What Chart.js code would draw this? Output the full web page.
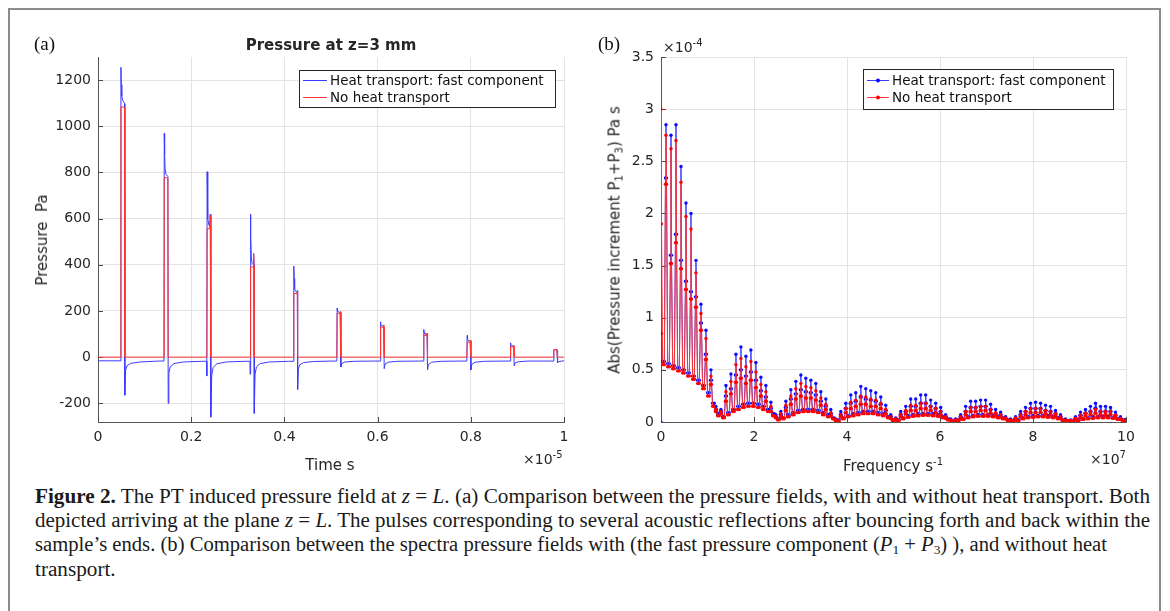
<!DOCTYPE html>
<html><head><meta charset="utf-8">
<script src="https://cdn.jsdelivr.net/npm/chart.js@4.4.1/dist/chart.umd.min.js"></script>
<style>
html,body{margin:0;padding:0;background:#fff;width:1170px;height:611px;overflow:hidden;}
#frame{position:absolute;left:8px;top:8px;width:1153px;height:660px;border:2px solid #8c8c8c;box-sizing:border-box;}
canvas{position:absolute;top:0;}
.t{position:absolute;font-family:'DejaVu Sans',sans-serif;color:#262626;white-space:nowrap;font-size:15px;z-index:5;}
.t sup{font-size:10px;vertical-align:6px;}
.t sub{font-size:10px;vertical-align:-3px;}
.pl{position:absolute;font-family:'Liberation Serif',serif;font-size:19px;color:#111;z-index:5;}
.cap{position:absolute;left:35px;font-family:'Liberation Serif',serif;font-size:20px;line-height:22px;color:#1a1a1a;white-space:nowrap;transform-origin:left top;z-index:5;}
.cap sub{font-size:13px;vertical-align:-3px;}
</style></head>
<body>
<div id="frame"></div>
<canvas id="ca" width="585" height="480" style="left:0px"></canvas>
<canvas id="cb" width="580" height="480" style="left:590px"></canvas>

<div class="pl" style="left:34px;top:33px">(a)</div>
<div class="t" style="left:331px;top:45px;transform:translate(-50%,-50%);font-weight:bold;">Pressure at z=3 mm</div>
<div class="t" style="left:42px;top:240px;transform:translate(-50%,-50%) rotate(-90deg);">Pressure&nbsp;&nbsp;Pa</div>
<div class="t" style="left:330px;top:465px;transform:translate(-50%,-50%);">Time s</div>
<div class="t" style="left:523px;top:458px;transform:translate(0,-50%);font-size:14px;">×10<sup>-5</sup></div>

<div class="pl" style="left:598px;top:33px">(b)</div>
<div class="t" style="left:663px;top:46px;transform:translate(0,-50%);font-size:14px;">×10<sup>-4</sup></div>
<div class="t" style="left:893px;top:465px;transform:translate(-50%,-50%);">Frequency s<sup>-1</sup></div>
<div class="t" style="left:1090px;top:458px;transform:translate(0,-50%);font-size:14px;">×10<sup>7</sup></div>
<div class="t" style="left:615px;top:240px;transform:translate(-50%,-50%) rotate(-90deg);">Abs(Pressure increment P<sub>1</sub>+P<sub>3</sub>) Pa s</div>

<div class="cap" id="c1" style="top:485px"><b>Figure 2.</b> The PT induced pressure field at <i>z</i> = <i>L</i>. (a) Comparison between the pressure fields, with and without heat transport. Both</div>
<div class="cap" id="c2" style="top:509px">depicted arriving at the plane <i>z</i> = <i>L</i>. The pulses corresponding to several acoustic reflections after bouncing forth and back within the</div>
<div class="cap" id="c3" style="top:533px">sample’s ends. (b) Comparison between the spectra pressure fields with (the fast pressure component (<i>P</i><sub>1</sub> + <i>P</i><sub>3</sub>) ), and without heat</div>
<div class="cap" id="c4" style="top:558px">transport.</div>

<script>
// ---------------- DATA ----------------
const seriesNames = ['Heat transport: fast component', 'No heat transport'];

// Panel (a): time in units of 1e-5 s, pressure in Pa
const timeTicks = [0, 0.2, 0.4, 0.6, 0.8, 1];
const pressureTicks = [-200, 0, 200, 400, 600, 800, 1000, 1200];

const blueTime = [0,
0.0485,0.0492,0.0500,0.0510,0.0530,0.0570,0.0576,0.0590,0.0620,0.070,0.090,0.130,
0.1415,0.1422,0.1430,0.1440,0.1460,0.1500,0.1506,0.1520,0.1550,0.163,0.183,0.223,
0.2330,0.2335,0.2342,0.2350,0.2360,0.2380,0.2400,0.2410,0.2418,0.2424,0.2440,0.2470,0.255,0.275,0.316,
0.3260,0.3265,0.3272,0.3280,0.3290,0.3310,0.3330,0.3340,0.3348,0.3354,0.3370,0.3400,0.348,0.368,0.409,
0.4195,0.4202,0.4210,0.4220,0.4240,0.4270,0.4278,0.4284,0.4300,0.4330,0.441,0.461,0.502,
0.5125,0.5132,0.5140,0.5155,0.5200,0.5212,0.5230,0.530,0.550,0.595,
0.6055,0.6062,0.6070,0.6085,0.6130,0.6142,0.6160,0.623,0.643,0.688,
0.6985,0.6992,0.7000,0.7015,0.7060,0.7072,0.7090,0.716,0.736,0.781,
0.7915,0.7922,0.7930,0.7945,0.7990,0.8002,0.8020,0.809,0.829,0.874,
0.8845,0.8852,0.8860,0.8875,0.8920,0.8932,0.8950,0.902,0.922,0.967,
0.9775,0.9782,0.9790,0.9805,0.9850,0.9862,0.9880,0.995,1.0];
const bluePressure = [-16,
-16,1255,1180,1130,1112,1098,-165,-60,-38,-27,-21,-17,
-17,969,880,815,792,782,-200,-70,-42,-28,-21,-18,
-18,-82,803,690,600,572,566,619,565,-260,-80,-45,-29,-21,-18,
-18,-74,619,520,430,405,400,449,398,-244,-75,-42,-28,-21,-18,
-18,394,340,295,285,282,288,-140,-50,-33,-24,-19,-17,
-17,212,200,196,194,-43,-28,-21,-18,-17,
-17,153,140,136,134,-50,-30,-22,-18,-17,
-17,120,105,100,98,-56,-32,-22,-18,-17,
-17,94,78,72,70,-56,-32,-22,-18,-17,
-17,62,53,50,48,-38,-26,-20,-17,-17,
-17,33,32,32,31,-25,-20,-17,-16];

const redTime = [0,
0.0487,0.0492,0.0570,0.0575,
0.1417,0.1422,0.1500,0.1505,
0.2337,0.2342,0.2400,0.2410,0.2418,0.2423,
0.3267,0.3272,0.3330,0.3340,0.3348,0.3353,
0.4197,0.4202,0.4270,0.4278,0.4283,
0.5127,0.5132,0.5195,0.5203,0.5210,0.5214,
0.6057,0.6062,0.6125,0.6133,0.6140,0.6144,
0.6987,0.6992,0.7055,0.7063,0.7070,0.7074,
0.7917,0.7922,0.7985,0.7993,0.8000,0.8004,
0.8847,0.8852,0.8915,0.8923,0.8930,0.8934,
0.9777,0.9782,0.9790,0.9850,0.9858,1.0];
const redPressure = [0,
0,1085,1082,0,
0,778,776,0,
0,557,556,615,560,0,
0,391,390,445,392,0,
0,276,275,283,0,
0,190,188,198,188,0,
0,131,129,140,129,0,
0,95,93,104,93,0,
0,66,64,74,64,0,
0,45,44,52,44,0,
0,30,33,32,0,0];

// Panel (b): frequency in units of 1e7 1/s, amplitude in units of 1e-4 Pa s
const freqTicks = [0, 2, 4, 6, 8, 10];
const ampTicks = [0, 0.5, 1, 1.5, 2, 2.5, 3, 3.5];
const harmonicSpacing = 0.1074;   // spacing of the spectral lines

const bluePeak = [0,2.85,2.75,2.85,2.45,2.10,2.00,1.55,1.13,0.88,0.50,0.15,
0.12,0.35,0.46,0.65,0.72,0.63,0.69,0.57,0.43,0.35,0.19,0.07,
0.10,0.20,0.31,0.39,0.45,0.42,0.40,0.37,0.29,0.22,0.12,0.03,
0.10,0.18,0.26,0.28,0.34,0.32,0.30,0.28,0.24,0.16,0.07,
0.04,0.10,0.15,0.22,0.22,0.26,0.26,0.21,0.18,0.14,0.07,0.03,
0.03,0.07,0.15,0.20,0.20,0.21,0.21,0.17,0.12,0.095,0.05,
0.03,0.05,0.10,0.14,0.18,0.19,0.18,0.16,0.15,0.11,0.07,0.03,
0.02,0.05,0.095,0.12,0.15,0.18,0.15,0.15,0.14,0.095,0.05,0.025];
const blueShoulder = [.85,2.34,1.6,1.8,1.55,1.35,1.25,1.2,.95,.65,.4,.12,
.1,.25,.32,.45,.5,.44,.48,.4,.3,.24,.13,.05,
.07,.14,.22,.27,.31,.29,.28,.26,.2,.15,.08,.02,
.07,.13,.18,.2,.24,.22,.21,.2,.17,.11,.05,
.03,.07,.1,.15,.15,.18,.18,.15,.13,.1,.05,.02,
.02,.05,.1,.14,.14,.15,.15,.12,.08,.07,.035,
.02,.035,.07,.1,.13,.13,.13,.11,.1,.08,.05,.02,
.015,.035,.065,.085,.1,.13,.1,.1,.1,.065,.035,.02];
const blueFloor = [.58,.56,.54,.52,.50,.47,.44,.40,.35,.28,.18,.08,
.05,.09,.12,.15,.17,.18,.18,.17,.15,.12,.08,.03,
.04,.07,.09,.11,.12,.12,.12,.11,.09,.07,.04,.02,
.04,.06,.08,.09,.10,.10,.10,.09,.08,.05,.02,
.02,.04,.06,.07,.08,.08,.08,.08,.07,.05,.03,.01,
.02,.03,.05,.06,.07,.07,.07,.06,.05,.04,.02,
.01,.02,.04,.05,.06,.06,.06,.06,.05,.04,.02,.01,
.01,.02,.03,.04,.05,.05,.05,.05,.04,.03,.02,.01];

const redPeak = [3.00,2.75,2.62,2.70,2.30,1.97,1.85,1.43,1.04,0.80,0.44,0.12,
.10,.29,.39,.55,.61,.53,.58,.48,.36,.29,.15,.05,
.08,.16,.25,.32,.37,.34,.33,.30,.23,.17,.09,.02,
.07,.13,.19,.21,.25,.24,.22,.21,.18,.12,.05,
.03,.07,.11,.16,.16,.18,.18,.15,.13,.10,.05,.02,
.02,.05,.10,.14,.14,.15,.15,.12,.09,.07,.04,
.02,.04,.07,.10,.13,.13,.13,.11,.10,.08,.05,.02,
.015,.035,.065,.085,.10,.12,.10,.10,.10,.065,.035,.02];
const redShoulder = [1.9,2.28,1.52,1.72,1.47,1.27,1.18,1.1,.88,.6,.36,.1,
.08,.2,.27,.38,.42,.37,.4,.33,.25,.2,.1,.04,
.05,.11,.17,.22,.25,.23,.23,.21,.16,.12,.06,.015,
.05,.09,.13,.15,.17,.17,.15,.15,.13,.08,.035,
.02,.05,.08,.11,.11,.13,.13,.11,.09,.07,.035,.015,
.015,.035,.07,.1,.1,.11,.11,.085,.065,.05,.03,
.015,.03,.05,.07,.09,.09,.09,.08,.07,.055,.035,.015,
.01,.025,.045,.06,.07,.085,.07,.07,.07,.045,.025,.015];
const redFloor = [.55,.53,.51,.49,.47,.44,.41,.37,.32,.25,.15,.06,
.04,.07,.10,.12,.14,.15,.15,.14,.12,.10,.06,.02,
.03,.05,.07,.09,.10,.10,.10,.09,.07,.05,.03,.01,
.03,.05,.06,.07,.08,.08,.08,.07,.06,.04,.015,
.015,.03,.045,.055,.06,.065,.065,.06,.055,.04,.02,.01,
.015,.025,.04,.05,.055,.055,.055,.05,.04,.03,.015,
.01,.015,.03,.04,.045,.05,.05,.045,.04,.03,.015,.01,
.01,.015,.025,.03,.035,.04,.04,.04,.035,.025,.015,.01];

// ---------------- BUILD ----------------
const BLUE_LINE = '#3a3aff', RED_LINE = '#ff3434';
const BLUE_DOT = '#0a0aff', RED_DOT = '#ff0000';

function pairs(xs, ys) { return xs.map((x, i) => ({x: x, y: ys[i]})); }
function spectrum(peak, shoulder, floor) {
  const pts = [];
  for (let k = 0; k < peak.length; k++) {
    const f = k * harmonicSpacing;
    if (k > 0) pts.push({x: f - 0.011, y: shoulder[k]});
    pts.push({x: f, y: peak[k]});
    pts.push({x: f + 0.011, y: shoulder[k]});
    pts.push({x: f + 0.036, y: floor[k]});
    pts.push({x: f + 0.072, y: floor[k]});
  }
  return pts;
}
function fmt(v) { return String(Math.round(v * 1000) / 1000); }

const decor = {
  id: 'decor',
  beforeDatasetsDraw(chart) {
    const {ctx, chartArea: a, scales: {x, y}} = chart;
    ctx.save();
    ctx.strokeStyle = '#4a4a4a'; ctx.lineWidth = 1;
    ctx.beginPath();
    x.ticks.forEach(t => { const px = Math.round(x.getPixelForValue(t.value)) + 0.5; ctx.moveTo(px, a.bottom); ctx.lineTo(px, a.bottom - 5); });
    y.ticks.forEach(t => { const py = Math.round(y.getPixelForValue(t.value)) + 0.5; ctx.moveTo(a.left, py); ctx.lineTo(a.left + 5, py); });
    ctx.stroke();
    ctx.restore();
  },
  afterDraw(chart, args, opts) {
    const g = opts.legend; if (!g) return;
    const ctx = chart.ctx;
    ctx.save();
    ctx.fillStyle = '#fff';
    ctx.fillRect(g.x0, g.y0, g.x1 - g.x0, g.y1 - g.y0);
    ctx.strokeStyle = '#262626'; ctx.lineWidth = 1;
    ctx.strokeRect(g.x0 + 0.5, g.y0 + 0.5, g.x1 - g.x0, g.y1 - g.y0);
    ctx.font = '13.5px "DejaVu Sans"'; ctx.textBaseline = 'middle';
    g.rows.forEach(r => {
      ctx.strokeStyle = r.color; ctx.beginPath();
      ctx.moveTo(g.s0, r.y + 0.5); ctx.lineTo(g.s1, r.y + 0.5); ctx.stroke();
      if (r.dot) { ctx.fillStyle = r.dot; ctx.beginPath(); ctx.arc((g.s0 + g.s1) / 2, r.y + 0.5, 2, 0, Math.PI * 2); ctx.fill(); }
      ctx.fillStyle = '#111'; ctx.fillText(r.label, g.tx, r.y + 1);
    });
    ctx.restore();
  }
};

function axisCfg(min, max, ticks, fit) {
  return {
    type: 'linear', min: min, max: max,
    afterBuildTicks: s => { s.ticks = ticks.map(v => ({value: v})); },
    afterFit: fit,
    ticks: {font: {family: 'DejaVu Sans', size: 14}, color: '#262626', padding: 7, callback: v => fmt(v), maxRotation: 0, autoSkip: false},
    grid: {color: '#e3e3e3', lineWidth: 1, drawTicks: false},
    border: {display: true, color: '#555555', width: 1}
  };
}

new Chart(document.getElementById('ca'), {
  type: 'scatter',
  data: {datasets: [
    {label: seriesNames[0], data: pairs(blueTime, bluePressure), showLine: true, borderColor: BLUE_LINE, borderWidth: 1, pointRadius: 0, order: 2},
    {label: seriesNames[1], data: pairs(redTime, redPressure), showLine: true, borderColor: RED_LINE, borderWidth: 1, pointRadius: 0, order: 1}
  ]},
  options: {
    animation: false, responsive: false, devicePixelRatio: 1,
    layout: {padding: {left: 0, top: 57, right: 21, bottom: 28}},
    plugins: {legend: {display: false}, tooltip: {enabled: false},
      decor: {legend: {x0: 299, y0: 70, x1: 555, y1: 107, s0: 303, s1: 327, tx: 330,
        rows: [{y: 80, color: BLUE_LINE, label: seriesNames[0]}, {y: 97, color: RED_LINE, label: seriesNames[1]}]}}},
    scales: {
      x: axisCfg(0, 1, timeTicks, s => { s.height = 30; }),
      y: axisCfg(-281, 1300, pressureTicks, s => { s.width = 98; })
    }
  },
  plugins: [decor]
});

new Chart(document.getElementById('cb'), {
  type: 'scatter',
  data: {datasets: [
    {label: seriesNames[0], data: spectrum(bluePeak, blueShoulder, blueFloor), showLine: true, borderColor: BLUE_LINE, borderWidth: 1, pointRadius: 1.7, pointBorderWidth: 0, pointBackgroundColor: BLUE_DOT, order: 2},
    {label: seriesNames[1], data: spectrum(redPeak, redShoulder, redFloor), showLine: true, borderColor: RED_LINE, borderWidth: 1, pointRadius: 1.7, pointBorderWidth: 0, pointBackgroundColor: RED_DOT, order: 1}
  ]},
  options: {
    animation: false, responsive: false, devicePixelRatio: 1,
    layout: {padding: {left: 0, top: 57, right: 44, bottom: 28}},
    plugins: {legend: {display: false}, tooltip: {enabled: false},
      decor: {legend: {x0: 273, y0: 69, x1: 523, y1: 109, s0: 277, s1: 299, tx: 302,
        rows: [{y: 80, color: BLUE_LINE, dot: BLUE_DOT, label: seriesNames[0]}, {y: 97, color: RED_LINE, dot: RED_DOT, label: seriesNames[1]}]}}},
    scales: {
      x: axisCfg(0, 10, freqTicks, s => { s.height = 30; }),
      y: axisCfg(0, 3.5, ampTicks, s => { s.width = 71; })
    }
  },
  plugins: [decor]
});

// caption line widths (condensed typesetting of the journal caption)
[['c1', 1115], ['c2', 1115], ['c3', 1072], ['c4', null]].forEach(([id, w]) => {
  const el = document.getElementById(id);
  const nat = el.getBoundingClientRect().width;
  if (w) el.style.transform = 'scaleX(' + (w / nat) + ')';
  else el.style.transform = document.getElementById('c1').style.transform;
});
</script>
</body></html>
